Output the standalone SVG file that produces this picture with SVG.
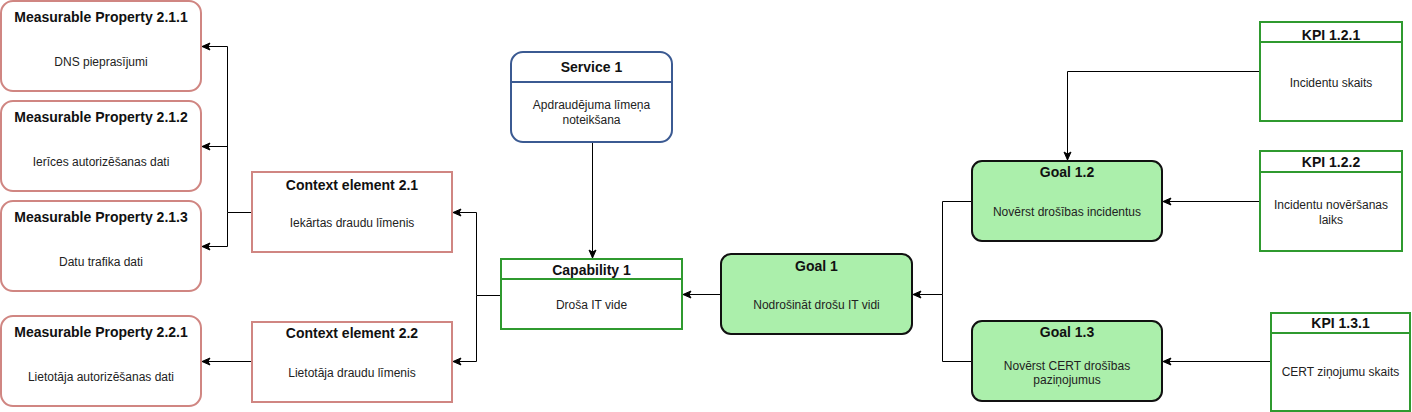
<svg xmlns="http://www.w3.org/2000/svg" width="1412" height="412" viewBox="0 0 1412 412">
<style>
text{font-family:"Liberation Sans",Arial,Helvetica,sans-serif;text-anchor:middle;fill:#222}
.t{font-size:14px;font-weight:bold;fill:#111}
.b{font-size:12px}
.red{fill:#fff;stroke:#d08682;stroke-width:2}
.grn{fill:#fff;stroke:#2f9a2f;stroke-width:2}
.blu{fill:#fff;stroke:#3b5a92;stroke-width:2}
.goal{fill:#abefab;stroke:#111;stroke-width:2}
.c{fill:none;stroke:#000;stroke-width:1}
</style>
<defs>
<marker id="ar" markerWidth="10" markerHeight="10" refX="9" refY="5" orient="auto" markerUnits="userSpaceOnUse">
<path d="M1,1.5 L9,5 L1,8.5 L3,5 Z" fill="#000" stroke="#000" stroke-width="1"/>
</marker>
</defs>
<g id="connectors">
<path class="c" d="M592.5,142 V258" marker-end="url(#ar)"/>
<path class="c" d="M721,294.5 H683" marker-end="url(#ar)"/>
<path class="c" d="M501,295.5 H476.5 V212.5 H453" marker-end="url(#ar)"/>
<path class="c" d="M476.5,295.5 V361.5 H453" marker-end="url(#ar)"/>
<path class="c" d="M252,212.5 H227.5 V46.5 H202" marker-end="url(#ar)"/>
<path class="c" d="M227.5,146.5 H202" marker-end="url(#ar)"/>
<path class="c" d="M227.5,212.5 V246.5 H202" marker-end="url(#ar)"/>
<path class="c" d="M252,361.5 H202" marker-end="url(#ar)"/>
<path class="c" d="M972,201.5 H942.5 V294.5 H913" marker-end="url(#ar)"/>
<path class="c" d="M972,361.5 H942.5 V294.5"/>
<path class="c" d="M1260,71.5 H1067.5 V160" marker-end="url(#ar)"/>
<path class="c" d="M1260,201.5 H1163" marker-end="url(#ar)"/>
<path class="c" d="M1271,361.5 H1163" marker-end="url(#ar)"/>
</g>
<g id="mp211">
<rect class="red" x="1" y="1" width="200" height="90" rx="12"/>
<text class="t" x="101" y="22">Measurable Property 2.1.1</text>
<text class="b" x="101" y="66">DNS pieprasījumi</text>
</g>
<g id="mp212">
<rect class="red" x="1" y="101" width="200" height="90" rx="12"/>
<text class="t" x="101" y="122">Measurable Property 2.1.2</text>
<text class="b" x="101" y="166">Ierīces autorizēšanas dati</text>
</g>
<g id="mp213">
<rect class="red" x="1" y="201" width="200" height="90" rx="12"/>
<text class="t" x="101" y="222">Measurable Property 2.1.3</text>
<text class="b" x="101" y="266">Datu trafika dati</text>
</g>
<g id="mp221">
<rect class="red" x="1" y="316" width="200" height="90" rx="12"/>
<text class="t" x="101" y="337">Measurable Property 2.2.1</text>
<text class="b" x="101" y="381">Lietotāja autorizēšanas dati</text>
</g>
<g id="ce21">
<rect class="red" x="252" y="172" width="200" height="80"/>
<text class="t" x="352" y="190">Context element 2.1</text>
<text class="b" x="352" y="227">Iekārtas draudu līmenis</text>
</g>
<g id="ce22">
<rect class="red" x="252" y="322" width="200" height="80"/>
<text class="t" x="352" y="338">Context element 2.2</text>
<text class="b" x="352" y="377">Lietotāja draudu līmenis</text>
</g>
<g id="service1">
<rect class="blu" x="511" y="52" width="161" height="90" rx="12"/>
<line x1="511" y1="82" x2="672" y2="82" stroke="#3b5a92" stroke-width="2"/>
<text class="t" x="591.5" y="72">Service 1</text>
<text class="b" x="591.5" y="109">Apdraudējuma līmeņa</text>
<text class="b" x="591.5" y="124">noteikšana</text>
</g>
<g id="capability1">
<rect class="grn" x="501" y="259" width="181" height="70"/>
<line x1="501" y1="279" x2="682" y2="279" stroke="#2f9a2f" stroke-width="2"/>
<text class="t" x="591.5" y="275">Capability 1</text>
<text class="b" x="591.5" y="309">Droša IT vide</text>
</g>
<g id="goal1">
<rect class="goal" x="721" y="254" width="191" height="80" rx="10"/>
<text class="t" x="816.5" y="271">Goal 1</text>
<text class="b" x="816.5" y="309">Nodrošināt drošu IT vidi</text>
</g>
<g id="goal12">
<rect class="goal" x="972" y="161" width="190" height="80" rx="10"/>
<text class="t" x="1067" y="177">Goal 1.2</text>
<text class="b" x="1067" y="216">Novērst drošības incidentus</text>
</g>
<g id="goal13">
<rect class="goal" x="972" y="321" width="190" height="80" rx="10"/>
<text class="t" x="1067" y="337">Goal 1.3</text>
<text class="b" x="1067" y="370">Novērst CERT drošības</text>
<text class="b" x="1067" y="384">paziņojumus</text>
</g>
<g id="kpi121">
<rect class="grn" x="1260" y="22" width="142" height="99"/>
<line x1="1260" y1="42" x2="1402" y2="42" stroke="#2f9a2f" stroke-width="2"/>
<text class="t" x="1331" y="40">KPI 1.2.1</text>
<text class="b" x="1331" y="87">Incidentu skaits</text>
</g>
<g id="kpi122">
<rect class="grn" x="1260" y="151" width="142" height="100"/>
<line x1="1260" y1="172" x2="1402" y2="172" stroke="#2f9a2f" stroke-width="2"/>
<text class="t" x="1331" y="167">KPI 1.2.2</text>
<text class="b" x="1331" y="209">Incidentu novēršanas</text>
<text class="b" x="1331" y="224">laiks</text>
</g>
<g id="kpi131">
<rect class="grn" x="1271" y="313" width="139" height="98"/>
<line x1="1271" y1="333" x2="1410" y2="333" stroke="#2f9a2f" stroke-width="2"/>
<text class="t" x="1340.5" y="328">KPI 1.3.1</text>
<text class="b" x="1340.5" y="376">CERT ziņojumu skaits</text>
</g>
</svg>
